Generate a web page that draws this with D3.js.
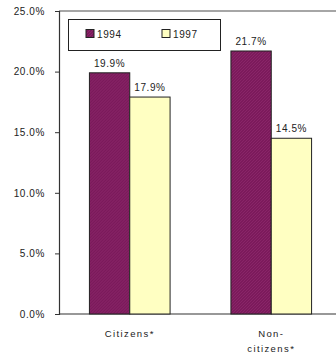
<!DOCTYPE html>
<html>
<head>
<meta charset="utf-8">
<script src="https://cdn.jsdelivr.net/npm/d3@7"></script>
<style>
  body { margin: 0; background: #fff; }
  text { font-family: "Liberation Sans", Arial, sans-serif; fill: #222; }
</style>
</head>
<body>
<div id="chart"></div>
<script>
var categories = ["Citizens*", "Non-citizens*"];
var categoryLines = [["Citizens*"], ["Non-", "citizens*"]];
var years = ["1994", "1997"];
var values1994 = [19.9, 21.7];
var values1997 = [17.9, 14.5];
var yTicks = [0, 5, 10, 15, 20, 25];

var width = 336, height = 357;
var margin = { top: 11, left: 59, bottom: 43 };
var plotRight = 342;
var colors = { "1994": "#7b1a5b", "1997": "#ffffc2" };

var svg = d3.select("#chart").append("svg")
  .attr("width", width)
  .attr("height", height);

var data = categories.map(function(c, i) {
  return { cat: c, lines: categoryLines[i], vals: [
    { year: "1994", v: values1994[i] },
    { year: "1997", v: values1997[i] }
  ] };
});

var y = d3.scaleLinear().domain([0, 25]).range([height - margin.bottom, margin.top]);
var x0 = d3.scaleBand().domain(categories).range([margin.left, plotRight]).paddingInner(0.43).paddingOuter(0.215);
var x1 = d3.scaleBand().domain(years).range([0, x0.bandwidth()]);

// hatch pattern for the 1994 bars
var defs = svg.append("defs");
var pat = defs.append("pattern").attr("id", "hatch")
  .attr("width", 3).attr("height", 3).attr("patternUnits", "userSpaceOnUse");
pat.append("rect").attr("width", 3).attr("height", 3).attr("fill", colors["1994"]);
pat.append("path").attr("d", "M0,3 L3,0").attr("stroke", "#8e2a6c").attr("stroke-width", 0.8);

// frame
svg.append("line").attr("x1", margin.left).attr("x2", plotRight)
  .attr("y1", margin.top).attr("y2", margin.top).attr("stroke", "#888").attr("stroke-width", 1.5);

var yAxis = svg.append("g")
  .attr("transform", "translate(" + margin.left + ",0)")
  .call(d3.axisLeft(y).tickValues(yTicks).tickSize(4).tickPadding(10)
    .tickFormat(function(d) { return d.toFixed(1) + "%"; }));
yAxis.select(".domain").attr("stroke", "#333").attr("stroke-width", 1.2);
yAxis.selectAll(".tick line").attr("stroke", "#333");
yAxis.selectAll("text").style("font-size", "10px").attr("letter-spacing", "0.6px")
  .style("font-family", "'Liberation Sans', Arial, sans-serif").attr("fill", "#222");

svg.append("line").attr("x1", margin.left).attr("x2", plotRight)
  .attr("y1", y(0)).attr("y2", y(0)).attr("stroke", "#333").attr("stroke-width", 1.2);

// bars
var groups = svg.selectAll(".grp").data(data).enter().append("g")
  .attr("class", "grp")
  .attr("transform", function(d) { return "translate(" + x0(d.cat) + ",0)"; });

groups.selectAll("rect").data(function(d) { return d.vals; }).enter().append("rect")
  .attr("x", function(d) { return x1(d.year); })
  .attr("y", function(d) { return y(d.v); })
  .attr("width", x1.bandwidth())
  .attr("height", function(d) { return y(0) - y(d.v); })
  .attr("fill", function(d) { return d.year === "1994" ? "url(#hatch)" : colors["1997"]; })
  .attr("stroke", "#222").attr("stroke-width", 1);

groups.selectAll(".lbl").data(function(d) { return d.vals; }).enter().append("text")
  .attr("class", "lbl")
  .attr("x", function(d) { return x1(d.year) + x1.bandwidth() / 2; })
  .attr("y", function(d) { return y(d.v) - 6; })
  .attr("text-anchor", "middle")
  .attr("letter-spacing", "0.6px")
  .style("font-size", "10px")
  .text(function(d) { return d.v.toFixed(1) + "%"; });

// category labels
groups.each(function(d) {
  var t = d3.select(this).append("text")
    .attr("x", x0.bandwidth() / 2)
    .attr("y", y(0) + 23)
    .attr("text-anchor", "middle")
    .attr("letter-spacing", "1.4px")
    .style("font-size", "9.5px");
  d.lines.forEach(function(l, i) {
    t.append("tspan").attr("x", x0.bandwidth() / 2).attr("dy", i === 0 ? 0 : 15).text(l);
  });
});

// legend
var legend = svg.append("g");
legend.append("rect").attr("x", 68.5).attr("y", 19.5).attr("width", 152).attr("height", 31)
  .attr("fill", "#fff").attr("stroke", "#222").attr("stroke-width", 1);
var lx = d3.scalePoint().domain(years).range([86, 162]);
years.forEach(function(yr) {
  legend.append("rect").attr("x", lx(yr)).attr("y", 29.5).attr("width", 8).attr("height", 8)
    .attr("fill", yr === "1994" ? "url(#hatch)" : colors["1997"])
    .attr("stroke", "#222").attr("stroke-width", 1);
  legend.append("text").attr("x", lx(yr) + 11).attr("y", 37.5)
    .attr("letter-spacing", "0.6px")
    .style("font-size", "10px").text(yr);
});
</script>
</body>
</html>
